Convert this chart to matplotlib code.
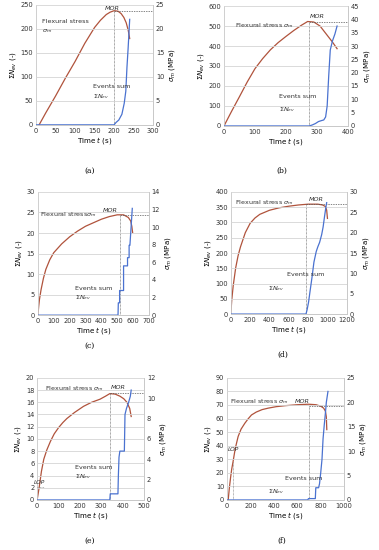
import numpy as np
import matplotlib.pyplot as plt

plt.rcParams['font.family'] = ['DejaVu Sans']
plt.rcParams['mathtext.fontset'] = 'dejavusans'

# (a)
a_ts = [8, 25, 50, 75, 100, 125, 150, 165, 180, 190, 200, 210, 218, 225, 231, 236, 240]
a_s = [0, 2.5, 6.0, 9.7, 13.2, 17.0, 20.3, 21.8, 23.0, 23.5, 23.8, 23.7, 23.2, 22.4, 21.3, 19.8, 18.0]
a_te = [0, 200, 205, 212, 220, 226, 230, 233, 236, 240]
a_e = [0, 0, 5, 10, 22, 45, 70, 120, 160, 220]
# (b)
b_ts = [0, 25, 50, 75, 100, 125, 150, 175, 200, 225, 250, 270, 290, 310, 330, 350, 365]
b_s = [0, 5.6, 11.0, 16.5, 21.5, 25.3, 28.6, 31.3, 33.6, 35.8, 37.8, 39.2, 39.0, 37.5, 34.5, 31.5, 29.0]
b_te = [0, 275, 285, 295, 305, 315, 322, 328, 333, 338, 343, 350, 358, 365]
b_e = [0, 0, 5, 12, 22, 27, 30, 45, 100, 250, 380, 425, 460, 500]
# (c)
c_ts = [0, 5, 10, 20, 35, 50, 75, 100, 150, 200, 250, 300, 350, 400, 450, 500, 540, 570, 585, 592, 597]
c_s = [0, 1.0, 1.8, 2.9, 4.2, 5.2, 6.3, 7.1, 8.1, 8.9, 9.55, 10.1, 10.5, 10.9, 11.2, 11.4, 11.4, 11.1, 10.7, 10.1, 9.4]
c_te = [0, 505, 507, 515, 515, 540, 540, 565, 565, 575, 575, 580, 585, 590, 595]
c_e = [0, 0, 3, 3, 6, 6, 12, 12, 14, 14, 17, 17, 20, 23, 26]
# (d)
d_ts = [0, 10, 25, 50, 75, 100, 150, 200, 250, 300, 400, 500, 600, 700, 800, 900, 950, 980, 992, 1000]
d_s = [0, 3.5, 7.0, 11.3, 14.3, 16.5, 20.0, 22.3, 23.6, 24.5, 25.5, 26.1, 26.5, 26.8, 27.0, 27.0, 26.8, 26.4, 25.5, 23.5]
d_te = [0, 778, 790, 805, 820, 840, 860, 884, 900, 919, 940, 955, 970, 985, 992]
d_e = [0, 0, 15, 40, 75, 120, 170, 205, 220, 235, 260, 285, 320, 353, 365]
# (e)
e_ts = [0, 10, 20, 31, 45, 62, 80, 100, 120, 139, 175, 217, 255, 294, 320, 340, 365, 387, 405, 420, 433, 440]
e_s = [0, 1.3, 2.8, 4.0, 4.9, 5.75, 6.5, 7.1, 7.6, 8.0, 8.6, 9.2, 9.6, 9.9, 10.2, 10.45, 10.4, 10.2, 9.95, 9.6, 9.0, 8.2]
e_te = [0, 340, 342, 378, 380, 383, 387, 408, 411, 418, 428, 436, 440]
e_e = [0, 0, 1, 1, 4, 7, 8, 8, 14, 15, 16, 17, 18]
# (f)
f_ts = [10, 20, 30, 40, 52, 70, 95, 120, 152, 180, 209, 250, 300, 352, 420, 496, 600, 696, 760, 800, 825, 840, 848, 852]
f_s = [0, 2.5, 4.5, 6.3, 7.9, 10.5, 13.0, 14.5, 15.7, 16.6, 17.4, 18.0, 18.5, 18.8, 19.1, 19.3, 19.5, 19.6, 19.5, 19.2, 18.8, 18.2, 17.0, 14.4]
f_te = [0, 690, 695, 754, 758, 782, 790, 800, 811, 820, 830, 840, 848, 862]
f_e = [0, 0, 1, 1, 9, 9, 12, 20, 30, 45, 55, 64, 72, 80]

panels = [
    dict(lab='(a)', pos=[0.095, 0.773, 0.309, 0.218], lp=(0.237, 0.685),
         ts=a_ts, s=a_s, te=a_te, e=a_e, xmax=300, xstep=50, lmax=250, lstep=50, rmax=25, rstep=5,
         tmor=200, mor=23.8, mortxt=(176, 24.0), fs=(15, 187, '\n'), ev=(146, 80), sn=(146, 60)),
    dict(lab='(b)', pos=[0.591, 0.771, 0.327, 0.218], lp=(0.744, 0.685),
         ts=b_ts, s=b_s, te=b_te, e=b_e, xmax=400, xstep=100, lmax=600, lstep=100, rmax=45, rstep=5,
         tmor=275, mor=38.9, mortxt=(278, 40.6), fs=(35, 480, ' '), ev=(178, 145), sn=(178, 80)),
    dict(lab='(c)', pos=[0.100, 0.427, 0.293, 0.224], lp=(0.237, 0.367),
         ts=c_ts, s=c_s, te=c_te, e=c_e, xmax=700, xstep=100, lmax=30, lstep=5, rmax=14, rstep=2,
         tmor=515, mor=11.35, mortxt=(411, 11.7), fs=(11, 23.5, ''), ev=(232, 6.6), sn=(232, 4.2)),
    dict(lab='(d)', pos=[0.609, 0.429, 0.306, 0.222], lp=(0.747, 0.351),
         ts=d_ts, s=d_s, te=d_te, e=d_e, xmax=1200, xstep=200, lmax=400, lstep=50, rmax=30, rstep=5,
         tmor=780, mor=27.0, mortxt=(806, 27.8), fs=(45, 350, ' '), ev=(586, 128), sn=(387, 82)),
    dict(lab='(e)', pos=[0.098, 0.091, 0.282, 0.222], lp=(0.237, 0.013),
         ts=e_ts, s=e_s, te=e_te, e=e_e, xmax=500, xstep=100, lmax=20, lstep=2, rmax=12, rstep=2,
         tmor=340, mor=10.5, mortxt=(344, 10.9), fs=(39, 17.6, ' '), ev=(178, 5.3), sn=(178, 3.8)),
    dict(lab='(f)', pos=[0.599, 0.091, 0.309, 0.222], lp=(0.744, 0.013),
         ts=f_ts, s=f_s, te=f_te, e=f_e, xmax=1000, xstep=200, lmax=90, lstep=10, rmax=25, rstep=5,
         tmor=700, mor=19.3, mortxt=(582, 19.9), fs=(23, 69.5, ' '), ev=(496, 16), sn=(352, 6)),
]

brown = '#b0533c'
blue = '#4a72d0'
gridc = '#d4d4d4'
fsz = 4.8

fig = plt.figure(figsize=(3.79, 5.50), dpi=100)
for p in panels:
    ax = fig.add_axes(p['pos'])
    ax2 = ax.twinx()
    ax.set_zorder(ax2.get_zorder() + 1)
    ax.patch.set_visible(False)
    ax.set_xlim(0, p['xmax'])
    ax.set_ylim(0, p['lmax'])
    ax2.set_ylim(0, p['rmax'])
    ax.set_xticks(np.arange(0, p['xmax'] + 1, p['xstep']))
    ax.set_yticks(np.arange(0, p['lmax'] + 0.001, p['lstep']))
    ax2.set_yticks(np.arange(0, p['rmax'] + 0.001, p['rstep']))
    ax.yaxis.grid(True, color=gridc, lw=0.6)
    ax.set_axisbelow(True)
    for a in (ax, ax2):
        for sp in a.spines.values():
            sp.set_color('#c8c8c8')
            sp.set_linewidth(0.6)
        a.spines['top'].set_visible(False)
        a.tick_params(labelsize=fsz, length=0, pad=2, colors='#333333')
    ax.spines['left'].set_visible(False)
    ax.set_xlabel('Time $t$ (s)', fontsize=fsz + 0.3, labelpad=1)
    ax.set_ylabel(r'$\Sigma N_{ev}$ (-)', fontsize=fsz + 0.3, labelpad=2)
    ax2.set_ylabel(r'$\sigma_{m}$ (MPa)', fontsize=fsz + 0.3, labelpad=2)

    ax2.plot(p['ts'], p['s'], color=brown, lw=0.9)
    ax.plot(p['te'], p['e'], color=blue, lw=0.9, zorder=3)

    # MOR guides
    ax2.plot([p['tmor'], p['xmax']], [p['mor'], p['mor']], ls=(0, (2, 1.5)), color='#555555', lw=0.5)
    ax2.plot([p['tmor'], p['tmor']], [0, p['mor']], ls=(0, (1, 1)), color='#555555', lw=0.5)
    ax2.text(p['mortxt'][0], p['mortxt'][1], 'MOR', fontsize=fsz - 0.2, style='italic', color='#333333')

    fx, fy, sep = p['fs']
    ax.text(fx, fy, 'Flexural stress' + sep + r'$\sigma_{m}$',
            fontsize=fsz - 0.2, color='#333333', va='bottom', linespacing=1.6)
    ax.text(p['ev'][0], p['ev'][1], 'Events sum', fontsize=fsz - 0.2, color='#333333', va='center')
    ax.text(p['sn'][0], p['sn'][1], r'$\Sigma N_{ev}$', fontsize=fsz - 0.2, color='#333333', va='center')
    fig.text(p['lp'][0], p['lp'][1], p['lab'], fontsize=5.5, family='serif', ha='center')

    if p['lab'] == '(e)':
        ax.plot([0, 30], [2.1, 2.1], ls=(0, (1, 1)), color='#777777', lw=0.5)
        ax.text(-14, 2.6, 'LOP', fontsize=fsz - 0.6, style='italic', color='#333333')
    if p['lab'] == '(f)':
        ax.plot([52, 52], [0, 28], ls=(0, (1, 1)), color='#777777', lw=0.5)
        ax.text(8, 36, 'LOP', fontsize=fsz - 0.6, style='italic', color='#333333')

fig.savefig('out.png', dpi=100)
